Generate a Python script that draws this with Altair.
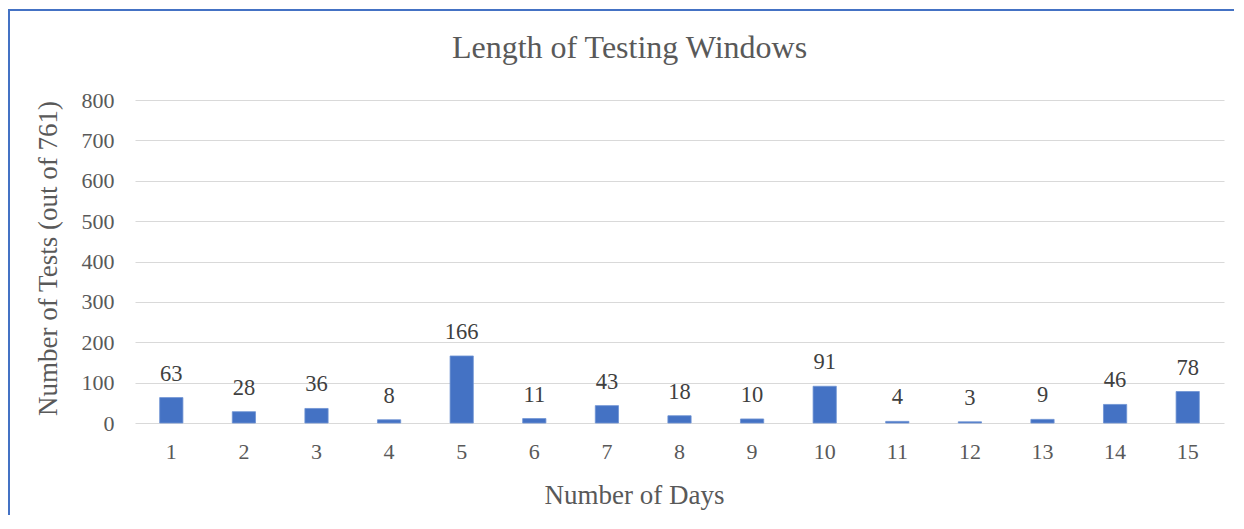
import altair as alt
import pandas as pd

days = [str(d) for d in range(1, 16)]
tests = [63, 28, 36, 8, 166, 11, 43, 18, 10, 91, 4, 3, 9, 46, 78]
chart_title = "Length of Testing Windows"

df = pd.DataFrame({"Day": days, "Tests": tests})

FONT = "Liberation Serif"
GRAY = "#595959"
W, H = 1089, 323

x_enc = alt.X(
    "Day:N",
    sort=days,
    scale=alt.Scale(paddingInner=0.68, paddingOuter=0.34),
    axis=alt.Axis(
        title="Number of Days",
        labelAngle=0,
        ticks=False,
        tickSize=0,
        domain=False,
        grid=False,
        labelPadding=35,
        labelBaseline="alphabetic",
        labelFontSize=22,
        labelColor=GRAY,
        titleFontSize=27,
        titleFontWeight="normal",
        titleColor=GRAY,
        titleBaseline="alphabetic",
        titleAlign="center",
        titleX=499,
        titleY=80,
    ),
)
y_enc = alt.Y(
    "Tests:Q",
    scale=alt.Scale(domain=[0, 800], nice=False),
    axis=alt.Axis(
        title="Number of Tests (out of 761)",
        values=[0, 100, 200, 300, 400, 500, 600, 700, 800],
        ticks=False,
        tickSize=0,
        domain=False,
        gridColor="#d9d9d9",
        gridWidth=1,
        labelPadding=21,
        labelFontSize=22,
        labelColor=GRAY,
        titleFontSize=27,
        titleFontWeight="normal",
        titleColor=GRAY,
        titleAngle=270,
        titleBaseline="middle",
        titleAlign="center",
        titleX=-87,
        titleY=158,
    ),
)

bars = alt.Chart(df).mark_bar(color="#4472C4", stroke="#6f93d3", strokeWidth=0.8).encode(
    x=x_enc, y=y_enc
)
labels = alt.Chart(df).mark_text(
    baseline="alphabetic", dy=-17, fontSize=22.5, color="#404040", font=FONT
).encode(x=alt.X("Day:N", sort=days), y="Tests:Q", text="Tests:Q")

one = pd.DataFrame({"t": [chart_title]})
title_mark = alt.Chart(one).mark_text(
    font=FONT, fontSize=32, color=GRAY, baseline="alphabetic", align="center"
).encode(x=alt.value(494.5), y=alt.value(-42), text="t:N")

top_border = alt.Chart(one).mark_rule(color="#4472C4", strokeWidth=2).encode(
    x=alt.value(-126), x2=alt.value(W + 40), y=alt.value(-90)
)
left_border = alt.Chart(one).mark_rule(color="#4472C4", strokeWidth=2).encode(
    x=alt.value(-126), y=alt.value(-91), y2=alt.value(H + 120)
)

chart = (
    alt.layer(bars, labels, title_mark, top_border, left_border)
    .properties(
        width=W,
        height=H,
        autosize=alt.AutoSizeParams(type="none"),
        padding={"left": 127, "top": 92, "right": 10, "bottom": 92},
    )
    .configure(font=FONT, background="white")
    .configure_view(stroke=None)
    .configure_axis(labelFont=FONT, titleFont=FONT)
    .configure_text(font=FONT)
)

chart.save("out.html", embed_options={"renderer": "svg", "actions": False})
